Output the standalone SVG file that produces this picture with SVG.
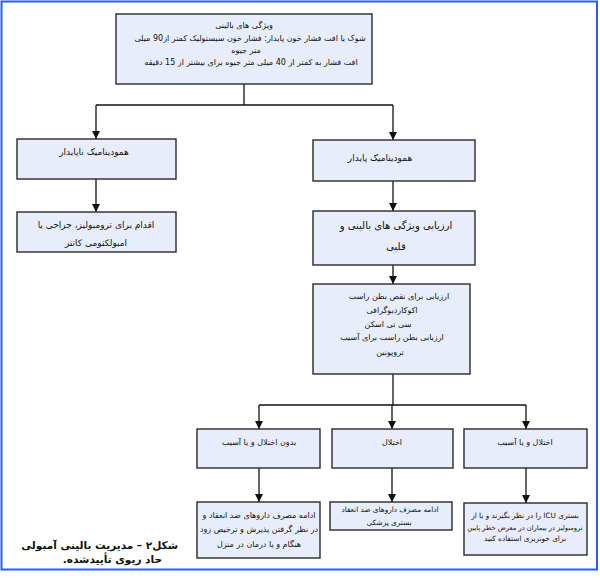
<svg xmlns="http://www.w3.org/2000/svg" width="600" height="580" viewBox="0 0 600 580">
<style>
.box{fill:#e8edfb;stroke:#2a2a2a;stroke-width:1.4}
.t{font-family:"DejaVu Sans",sans-serif;fill:#111;text-anchor:middle;direction:rtl}
.xxs{font-size:6.7px}
.xs{font-size:7.3px}
.s{font-size:8px}
.m{font-size:9px}
.l{font-size:10px}
.con line,.con path{stroke:#111;stroke-width:1.3;fill:none}
.cap{font-family:"DejaVu Sans",sans-serif;font-weight:bold;font-size:10.5px;fill:#111;text-anchor:start;direction:rtl}
</style>
<defs>
<marker id="ah" viewBox="0 0 8 10" refX="8" refY="5" markerWidth="8" markerHeight="10" markerUnits="userSpaceOnUse" orient="auto">
<path d="M0,1 L8,5 L0,9 Z" fill="#111"/>
</marker>
</defs>
<rect x="1.5" y="1.5" width="595.5" height="568" fill="#fff" stroke="#1f5fff" stroke-width="2"/>

<g class="con">
<line x1="244" y1="84" x2="244" y2="105"/>
<line x1="96" y1="105" x2="393" y2="105"/>
<line x1="96" y1="105" x2="96" y2="139" marker-end="url(#ah)"/>
<line x1="393" y1="105" x2="393" y2="140" marker-end="url(#ah)"/>
<line x1="96" y1="179" x2="96" y2="212" marker-end="url(#ah)"/>
<line x1="393" y1="181" x2="393" y2="211" marker-end="url(#ah)"/>
<line x1="393" y1="265" x2="393" y2="284" marker-end="url(#ah)"/>
<line x1="393" y1="374" x2="393" y2="405"/>
<line x1="259" y1="405" x2="526" y2="405"/>
<line x1="259" y1="405" x2="259" y2="429" marker-end="url(#ah)"/>
<line x1="392" y1="405" x2="392" y2="429" marker-end="url(#ah)"/>
<line x1="526" y1="405" x2="526" y2="429" marker-end="url(#ah)"/>
<line x1="259" y1="468" x2="259" y2="502" marker-end="url(#ah)"/>
<line x1="392" y1="468" x2="392" y2="502" marker-end="url(#ah)"/>
<line x1="526" y1="468" x2="526" y2="503" marker-end="url(#ah)"/>
</g>

<g id="n-top">
<rect class="box" x="116" y="14" width="256" height="70"/>
<text class="t s" x="244" y="28">ویژگی های بالینی</text>
<text class="t s" x="250" y="41">شوک یا افت فشار خون پایدار: فشار خون سیستولیک کمتر از90 میلی</text>
<text class="t s" x="246" y="53">متر جیوه</text>
<text class="t s" x="251" y="65">افت فشار به کمتر از 40 میلی متر جیوه برای بیشتر از 15 دقیقه</text>
</g>

<g id="n-unstable">
<rect class="box" x="17" y="139" width="159" height="40"/>
<text class="t m" x="94" y="155">همودینامیک ناپایدار</text>
</g>

<g id="n-thrombolysis">
<rect class="box" x="17" y="212" width="159" height="40"/>
<text class="t m" x="96" y="228">اقدام برای ترومبولیز، جراحی  یا</text>
<text class="t m" x="96" y="246">امبولکتومی کاتتر</text>
</g>

<g id="n-stable">
<rect class="box" x="313" y="140" width="162" height="41"/>
<text class="t m" x="380" y="161">همودینامیک پایدار</text>
</g>

<g id="n-assess">
<rect class="box" x="313" y="211" width="162" height="54"/>
<text class="t l" x="396" y="229">ارزیابی ویژگی های بالینی و</text>
<text class="t l" x="396" y="250">قلبی</text>
</g>

<g id="n-rv">
<rect class="box" x="313" y="284" width="157" height="90"/>
<text class="t s" x="399" y="299">ارزیابی برای نقص بطن راست</text>
<text class="t s" x="392" y="313">اکوکاردیوگرافی</text>
<text class="t s" x="388" y="327">سی تی اسکن</text>
<text class="t s" x="392" y="340">ارزیابی بطن راست برای آسیب</text>
<text class="t s" x="390" y="355">تروپونین</text>
</g>

<g id="n-none">
<rect class="box" x="197" y="429" width="123" height="39"/>
<text class="t s" x="259" y="445">بدون اختلال و یا آسیب</text>
</g>

<g id="n-dys">
<rect class="box" x="332" y="429" width="121" height="39"/>
<text class="t s" x="392" y="445">اختلال</text>
</g>

<g id="n-dysinj">
<rect class="box" x="464" y="429" width="123" height="39"/>
<text class="t s" x="525" y="445">اختلال و یا آسیب</text>
</g>

<g id="n-home">
<rect class="box" x="197" y="502" width="123" height="56"/>
<text class="t s" x="259" y="518">ادامه مصرف داروهای ضد انعقاد و</text>
<text class="t s" x="259" y="532">در نظر گرفتن پذیرش و ترخیص زود</text>
<text class="t s" x="259" y="547">هنگام و یا درمان در منزل</text>
</g>

<g id="n-ward">
<rect class="box" x="330" y="502" width="122" height="28"/>
<text class="t xs" x="390" y="512">ادامه مصرف داروهای ضد انعقاد</text>
<text class="t xs" x="389" y="525">بستری پزشکی</text>
</g>

<g id="n-icu">
<rect class="box" x="464" y="503" width="123" height="52"/>
<text class="t xs" x="525" y="518">بستری ICU را در نظر بگیرند و یا از</text>
<text class="t xxs" x="525" y="530">ترومبولیز در بیماران در معرض خطر پایین</text>
<text class="t xs" x="525" y="541">برای خونریزی استفاده کنید</text>
</g>

<text class="cap" x="178" y="549">شکل۲ – مدیریت بالینی آمبولی</text>
<text class="cap" x="162" y="563">حاد ریوی تأییدشده.</text>
</svg>
